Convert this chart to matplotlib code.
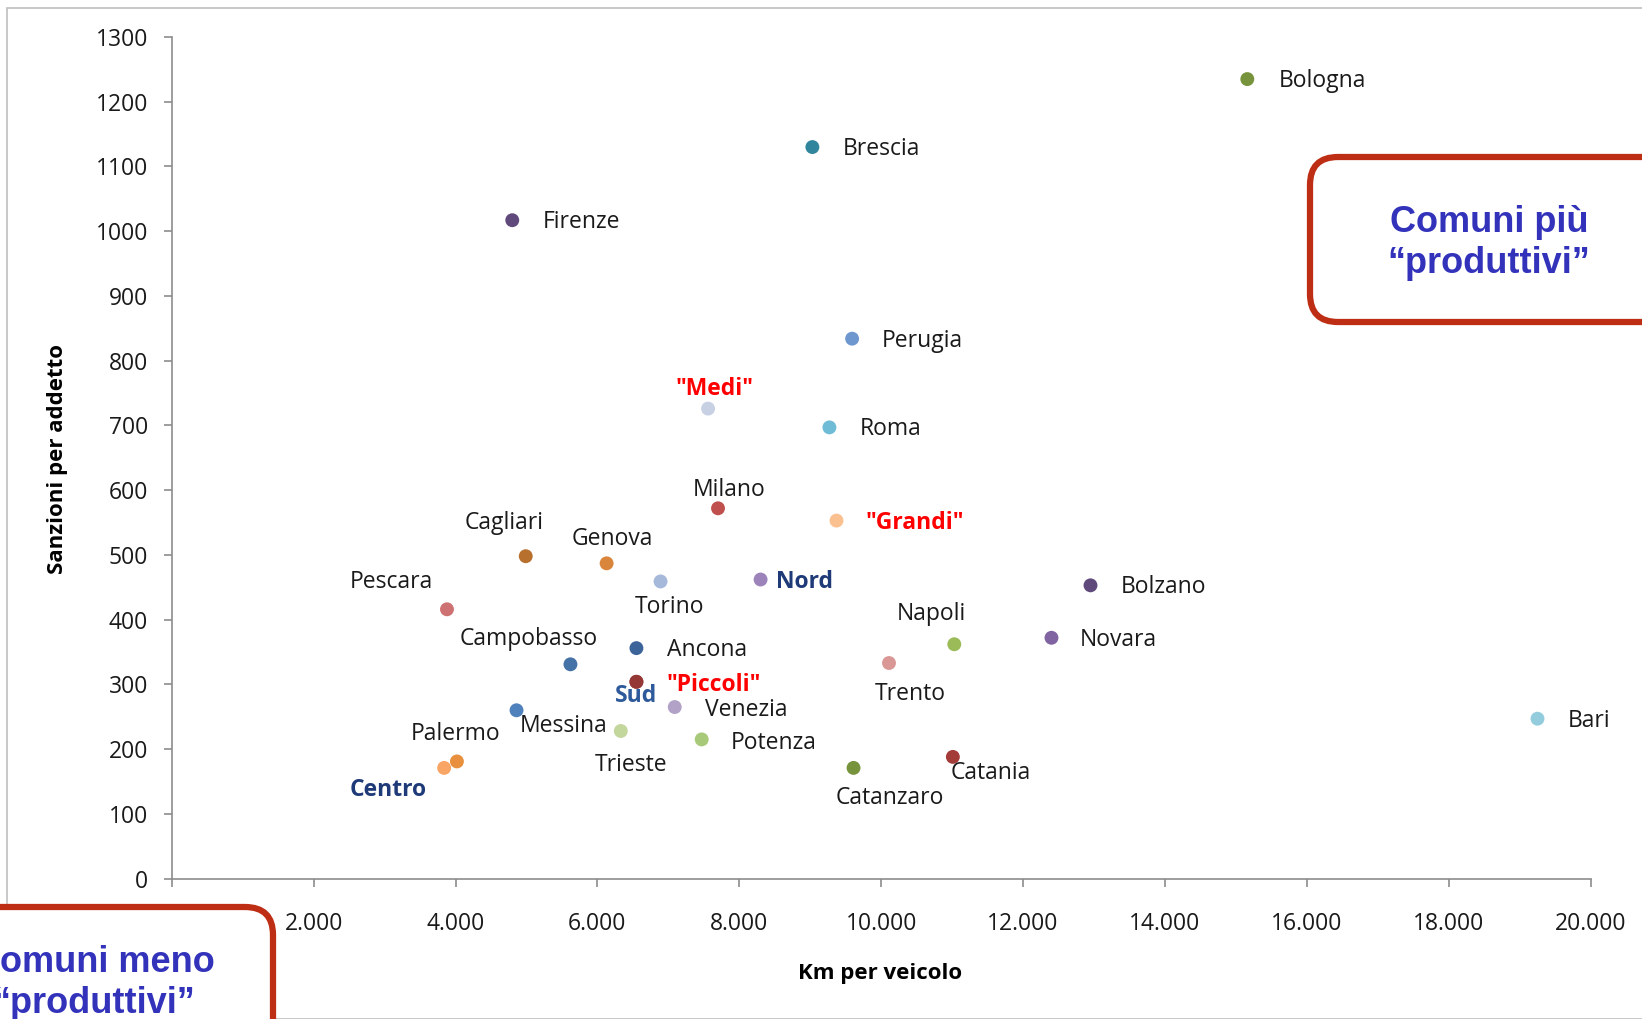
import matplotlib.pyplot as plt
from matplotlib.patches import FancyBboxPatch, Rectangle

# %% data
names = ['Bologna', 'Brescia', 'Firenze', 'Perugia', '"Medi"', 'Roma', 'Milano',
         '"Grandi"', 'Cagliari', 'Genova', 'Torino', 'Nord', 'Bolzano', 'Pescara',
         'Napoli', 'Novara', 'Ancona', 'Campobasso', 'Trento', 'Sud', '"Piccoli"',
         'Venezia', 'Messina', 'Trieste', 'Potenza', 'Bari', 'Catania',
         'Catanzaro', 'Palermo', 'Centro']
km_veicolo = [15160, 9030, 4800, 9590, 7560, 9270, 7700,
              9370, 4990, 6130, 6890, 8300, 12950, 3880,
              11030, 12400, 6550, 5620, 10110, 6550, 6550,
              7090, 4860, 6330, 7470, 19250, 11010,
              9610, 4020, 3840]
sanzioni_addetto = [1235, 1130, 1017, 834, 726, 697, 572,
                    553, 498, 487, 459, 462, 453, 416,
                    362, 372, 356, 331, 333, 304, 304,
                    265, 260, 228, 215, 247, 188,
                    171, 181, 171]
colors = ['#77933C', '#31859C', '#604A7B', '#6F97CF', '#C8D0E3', '#6FBCD6', '#C0504D',
          '#FAC090', '#B8702F', '#D9853B', '#A7B9DB', '#9C84BA', '#5F4A7B', '#CD7172',
          '#9BBB59', '#8064A2', '#3C649B', '#4572A7', '#D99795', '#953735', '#953735',
          '#B3A2C7', '#4F81BD', '#C3D69B', '#A9C97A', '#93CDDD', '#A33B39',
          '#77933C', '#E8903E', '#F8A565']

x_ticks = list(range(0, 20001, 2000))
x_ticklabels = [''] + ['{:,}'.format(v).replace(',', '.') for v in x_ticks[1:]]
y_ticks = list(range(0, 1301, 100))

# %% label placement (offset in screen px, alignment)
label_pos = {
    'Bologna': (30, 0, 'left'), 'Brescia': (29, 0, 'left'), 'Firenze': (29, 0, 'left'),
    'Perugia': (28, 0, 'left'), '"Medi"': (6, -21, 'center'), 'Roma': (29, 0, 'left'),
    'Milano': (11, -19, 'center'), '"Grandi"': (28, 0, 'left'),
    'Cagliari': (-21, -34, 'center'), 'Genova': (5, -25, 'center'),
    'Torino': (9, 22, 'center'), 'Nord': (15, 0, 'left'), 'Bolzano': (29, 0, 'left'),
    'Pescara': (-53, -28, 'center'), 'Napoli': (-22, -31, 'center'),
    'Novara': (27, 0, 'left'), 'Ancona': (29, 0, 'left'),
    'Campobasso': (-40, -26, 'center'), 'Trento': (20, 28, 'center'),
    'Sud': (0, 12, 'center'), '"Piccoli"': (29, 1, 'left'), 'Venezia': (29, 1, 'left'),
    'Messina': (3, 13, 'left'), 'Trieste': (10, 30, 'center'),
    'Potenza': (28, 1, 'left'), 'Bari': (29, 0, 'left'), 'Catania': (-2, 13, 'left'),
    'Catanzaro': (35, 27, 'center'), 'Palermo': (-1, -28, 'center'),
    'Centro': (-53, 19, 'center'),
}
group_blue = {'Nord': '#1F3A78', 'Sud': '#2E5A9C', 'Centro': '#1F3A78'}
group_red = ['"Medi"', '"Grandi"', '"Piccoli"']

plt.rcParams['font.family'] = ['Open Sans', 'DejaVu Sans']

fig = plt.figure(figsize=(16.42, 10.19), dpi=100)
W, H = 1642, 1019

# chart area frame
fig.patches.append(Rectangle((7 / W, 0), 2, 1 - 8 / H, transform=fig.transFigure,
                             fill=False, edgecolor='#BFBFBF', linewidth=1.2))

ax = fig.add_axes([171.7 / W, 1 - 878.6 / H, (1590.7 - 171.7) / W, (878.6 - 37) / H])
ax.set_xlim(0, 20000)
ax.set_ylim(0, 1300)
ax.patch.set_alpha(0)

# sud sits under piccoli
ax.scatter(km_veicolo, sanzioni_addetto, s=100, c=colors, zorder=3, linewidths=0)

k = 1.047 * 0.72
for i, name in enumerate(names):
    dx, dy, ha = label_pos[name]
    dy += 2
    color = '#1A1A1A'
    weight = 'normal'
    if name in group_blue:
        color = group_blue[name]
        weight = 'bold'
    elif name in group_red:
        color = '#FF0000'
        weight = 'bold'
    ax.annotate(name, (km_veicolo[i], sanzioni_addetto[i]),
                xytext=(dx * k, -dy * k), textcoords='offset points',
                ha=ha, va='center', fontsize=16.5, color=color, fontweight=weight,
                zorder=4)

for side in ['top', 'right']:
    ax.spines[side].set_visible(False)
for side in ['left', 'bottom']:
    ax.spines[side].set_color('#8C8C8C')
    ax.spines[side].set_linewidth(1.2)

ax.set_xticks(x_ticks)
ax.set_xticklabels(x_ticklabels)
ax.set_yticks(y_ticks)
ax.tick_params(axis='both', colors='#8C8C8C', labelcolor='#1A1A1A', labelsize=16.5,
               length=6, width=1.2)
ax.tick_params(axis='x', pad=18)
ax.tick_params(axis='y', pad=11)

fig.text(58 / W, 1 - 459 / H, 'Sanzioni per addetto', rotation=90, ha='center',
         va='center', fontsize=16, fontweight='bold')
fig.text(880 / W, 1 - 974 / H, 'Km per veicolo', ha='center', va='center',
         fontsize=16, fontweight='bold')

# %% red boxes
box_kw = dict(boxstyle='round,pad=0,rounding_size=28', transform=None,
              facecolor='white', edgecolor='#BE2E14', linewidth=4.5, zorder=5)
fig.patches.append(FancyBboxPatch((1310, H - 322), 400, 165, **box_kw))
fig.patches.append(FancyBboxPatch((-100, -100), 373, 1019 - 907 + 100, **box_kw))

text_kw = dict(ha='center', va='center', fontsize=26, fontweight='bold',
               color='#3232BB', family=['Liberation Sans', 'DejaVu Sans'],
               linespacing=1.25, zorder=6)
fig.text(1489 / W, 1 - 243 / H, 'Comuni più\n\u201cproduttivi\u201d', **text_kw)
fig.text(94 / W, 1 - 983 / H, 'Comuni meno\n\u201cproduttivi\u201d', **text_kw)

fig.savefig('out.png', dpi=100)
